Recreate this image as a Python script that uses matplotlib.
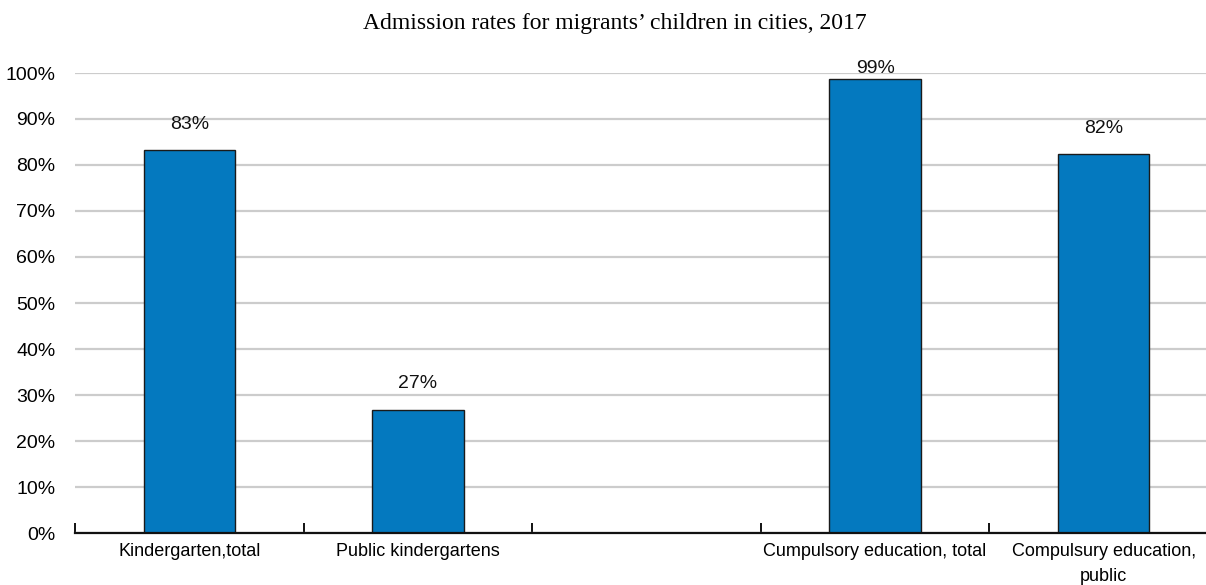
import matplotlib.pyplot as plt
from matplotlib.ticker import FixedLocator, PercentFormatter

plt.rcParams['font.family'] = ['Liberation Sans Narrow', 'Liberation Sans', 'DejaVu Sans']

categories = ["Kindergarten,total", "Public kindergartens", "", "Cumpulsory education, total",
              "Compulsury education,\npublic"]
rates = [83.3, 26.8, None, 98.8, 82.3]
labels = ["83%", "27%", "", "99%", "82%"]

fig = plt.figure(figsize=(12.06, 5.85), dpi=100)
ax = fig.add_axes([75 / 1206, 52 / 585, 1143 / 1206, 460 / 585])

xs = list(range(len(categories)))
for x, v, lab in zip(xs, rates, labels):
    if v is None:
        continue
    ax.bar(x, v, width=0.4, color="#0479BF", edgecolor="#1a1a1a", linewidth=1.0, zorder=3)
    ax.text(x, min(v + 5.6, 100.9), lab, ha="center", va="center", fontsize=14, color="#111111")

ax.set_xlim(-0.5, len(categories) - 0.5)
ax.set_ylim(0, 100)
ax.yaxis.set_major_locator(FixedLocator(range(0, 101, 10)))
ax.yaxis.set_major_formatter(PercentFormatter(decimals=0))
ax.grid(axis="y", color="#cccccc", linewidth=1.6, zorder=0)

ax.set_xticks(xs)
ax.set_xticklabels(categories, fontsize=13, linespacing=1.6)
ax.set_xticks([i - 0.5 for i in range(len(categories) + 1)], minor=True)
ax.tick_params(axis="x", which="major", length=0, pad=7)
ax.tick_params(axis="x", which="minor", direction="in", length=7, width=1.4, color="#111111")
ax.tick_params(axis="y", length=0, pad=14, labelsize=14)

for s in ["top", "right", "left"]:
    ax.spines[s].set_visible(False)
ax.spines["bottom"].set_linewidth(1.6)
ax.spines["bottom"].set_color("#111111")
ax.spines["bottom"].set_zorder(4)

fig.text(615 / 1206, 1 - 23 / 585, "Admission rates for migrants\u2019 children in cities, 2017",
         ha="center", va="center", fontsize=17, family=["Liberation Serif", "DejaVu Serif"])

fig.savefig("out.png", dpi=100)
